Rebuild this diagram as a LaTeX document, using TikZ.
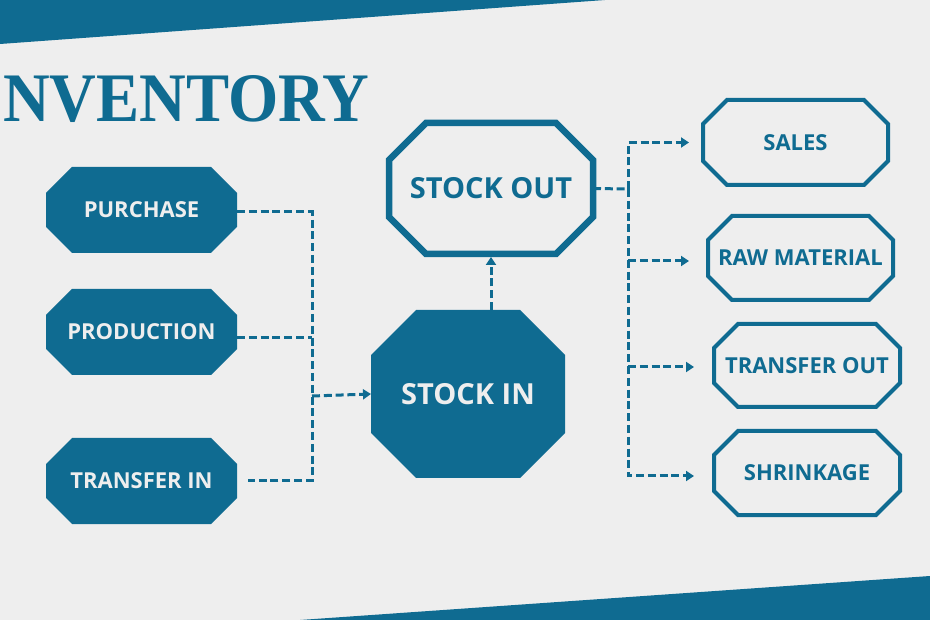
\documentclass[tikz,border=0pt]{standalone}
\usepackage{fontspec}
\usetikzlibrary{arrows.meta}
\newfontfamily\boxfont{Open Sans}
\newfontfamily\titlefont{Liberation Serif}
\definecolor{invblue}{RGB}{15,107,145}
\definecolor{invbg}{RGB}{238,238,238}
\pgfdeclarelayer{back}
\pgfsetlayers{back,main}
\newcommand\octo[3]{%
  \path[#3] ([xshift=#2]#1.north west) -- ([xshift=-#2]#1.north east) --
    ([yshift=-#2]#1.north east) -- ([yshift=#2]#1.south east) --
    ([xshift=-#2]#1.south east) -- ([xshift=#2]#1.south west) --
    ([yshift=#2]#1.south west) -- ([yshift=-#2]#1.north west) -- cycle;}
\tikzset{
  box/.style={rectangle, inner sep=0pt, outer sep=0pt, draw=none,
    font=\boxfont\bfseries\fontsize{22}{24}\selectfont},
  filledbox/.style={box, text=invbg, minimum width=191pt, minimum height=86pt},
  outbox/.style={box, text=invblue},
  bigbox/.style={box, font=\boxfont\bfseries\fontsize{29}{31}\selectfont},
  conn/.style={draw=invblue, line width=3pt, dash pattern=on 8pt off 3.8pt},
  tip/.style={-{Triangle[length=8pt,width=10pt]}},
}
\begin{document}
\begin{tikzpicture}[x=1pt,y=-1pt]
\useasboundingbox (0,0) rectangle (930,620);
\begin{pgfonlayer}{back}
  \fill[invbg] (0,0) rectangle (930,620);
  \fill[invblue] (0,0) -- (605,0) -- (0,44) -- cycle;
  \fill[invblue] (300,620) -- (930,576) -- (930,620) -- cycle;
\end{pgfonlayer}

\node[anchor=base west, text=invblue, inner sep=0pt,
  font=\titlefont\bfseries\fontsize{69.5}{70}\selectfont] (title) at (3,122)
  {\scalebox{0.93}[1]{NVENTORY}};

% left boxes
\node[filledbox] (pur) at (141.5,210) {PURCHASE\hspace{8pt}};
\node[filledbox] (pro) at (141.5,332) {PRODUCTION\hspace{8pt}};
\node[filledbox] (tin) at (141.5,481) {TRANSFER IN\hspace{14pt}};
% centre
\node[bigbox, text=invbg, minimum width=194pt, minimum height=168pt] (sin) at (468,394) {STOCK IN};
\node[bigbox, text=invblue, minimum width=204pt, minimum height=131pt] (sout) at (491,188.5) {STOCK OUT};
% right boxes
\node[outbox, minimum width=185pt, minimum height=85pt] (sales) at (795.5,142.5) {SALES};
\node[outbox, minimum width=185pt, minimum height=84pt] (raw) at (800.5,258) {RAW MATERIAL};
\node[outbox, minimum width=186pt, minimum height=83pt] (tout) at (807,365.5) {TRANSFER OUT};
\node[outbox, minimum width=186pt, minimum height=84pt] (shr) at (807,473) {SHRINKAGE};

\begin{pgfonlayer}{back}
  \octo{pur}{26pt}{fill=invblue}
  \octo{pro}{26pt}{fill=invblue}
  \octo{tin}{26pt}{fill=invblue}
  \octo{sin}{45pt}{fill=invblue}
  \octo{sout}{37pt}{draw=invblue, line width=6.5pt}
  \octo{sales}{24pt}{draw=invblue, line width=4pt}
  \octo{raw}{24pt}{draw=invblue, line width=4pt}
  \octo{tout}{24pt}{draw=invblue, line width=4pt}
  \octo{shr}{24pt}{draw=invblue, line width=4pt}
\end{pgfonlayer}

% left connectors
\coordinate (jl) at (312,396);
\coordinate (jlb) at (312,481);
\draw[conn] ([yshift=-2pt]pur.east) -| (jlb) -- ([xshift=11pt]tin.east);
\draw[conn] ([yshift=-6pt]pro.east) -- ([yshift=-6pt]pro.east -| jl);
\draw[conn, tip] (jl) -- (sin.west);
% up
\draw[conn, tip] (sout.south |- sin.north) -- ([yshift=-3pt]sout.south);
% right connectors
\coordinate (jr) at (628,189);
\draw[conn] (sout.east) -- (jr);
\draw[conn, tip] (jr) |- ([xshift=-14pt]sales.west);
\draw[conn, tip] (jr) |- ([xshift=-20pt,yshift=-3pt]shr.west);
\draw[conn, tip] ([yshift=-3pt]raw.west -| jr) -- ([xshift=-19pt,yshift=-3pt]raw.west);
\draw[conn, tip] ([yshift=-1.5pt]tout.west -| jr) -- ([xshift=-20pt,yshift=-1.5pt]tout.west);
\end{tikzpicture}
\end{document}
